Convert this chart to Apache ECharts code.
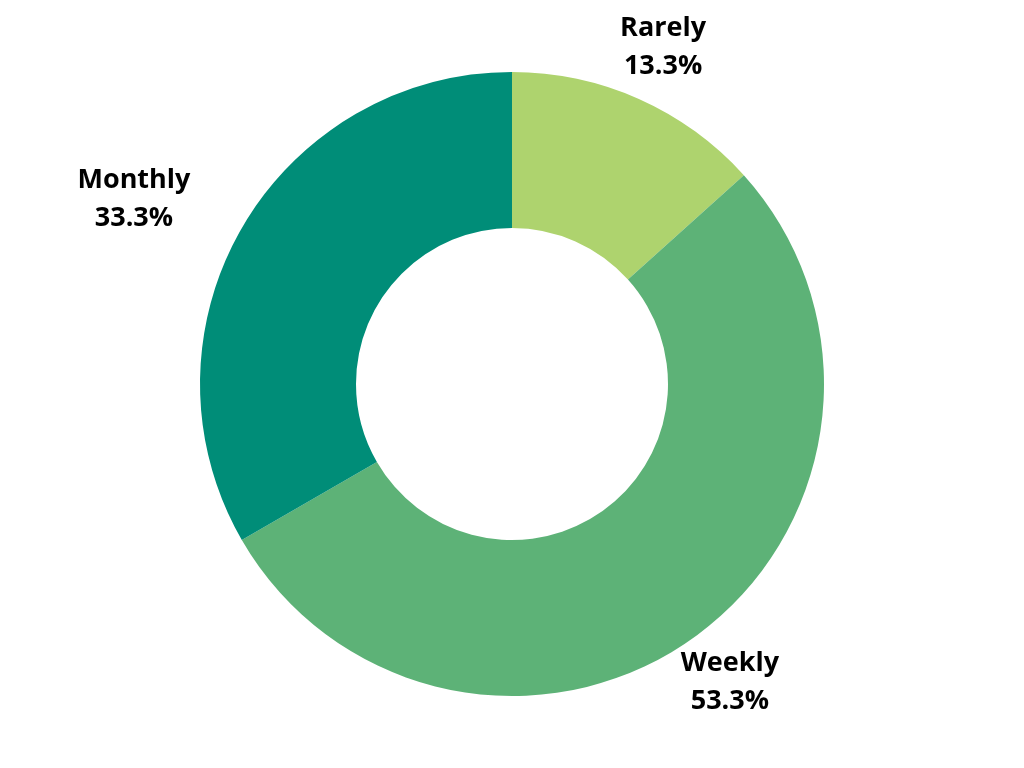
<!DOCTYPE html>
<html>
<head>
<meta charset="utf-8">
<script src="https://cdn.jsdelivr.net/npm/echarts@6/dist/echarts.min.js"></script>
<style>
html, body { margin: 0; padding: 0; background: #fff; }
#chart { width: 1024px; height: 768px; }
</style>
</head>
<body>
<div id="chart"></div>
<script>
// answers, clockwise from the top
var categories = ["Rarely", "Weekly", "Monthly"];
var values = [2, 8, 5];
var colors = ["#aed36e", "#5db277", "#008d78"];

var chart = echarts.init(document.getElementById("chart"));

var data = categories.map(function (name, i) {
	return { name: name, value: values[i], itemStyle: { color: colors[i] } };
});

var option = {
	backgroundColor: "#fff",
	animation: false,
	series: [
		{
			type: "pie",
			center: ["50%", "50%"],
			radius: [156, 312],
			startAngle: 90,
			clockwise: true,
			avoidLabelOverlap: false,
			data: data,
			label: {
				show: true,
				position: "outside",
				formatter: function (p) {
					return p.name + "\n" + p.percent.toFixed(1) + "%";
				},
				fontFamily: "Open Sans",
				fontWeight: "bold",
				fontSize: 27,
				lineHeight: 38,
				color: "#000",
				align: "center"
			},
			labelLine: { show: false, length: 57, length2: 0 },
			emphasis: { disabled: true }
		}
	]
};

// right-hand labels sit centred on the anchor, left-hand ones end at it
option.series[0].labelLayout = function (p) {
	if (p.align === "right") {
		return { x: p.labelRect.x + p.labelRect.width / 2 + 3, align: "center" };
	}
	return { x: p.labelRect.x - 4, align: "center" };
};

chart.setOption(option);
</script>
</body>
</html>
